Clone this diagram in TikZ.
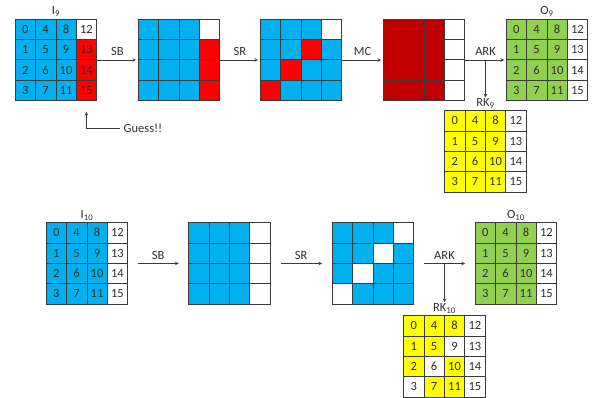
\documentclass[tikz,border=0pt]{standalone}
\usepackage{fontspec}
\setmainfont{Carlito}
\usetikzlibrary{positioning}

\definecolor{bl}{HTML}{00B0F0}
\definecolor{rd}{HTML}{FF0000}
\definecolor{dr}{HTML}{C00000}
\definecolor{gn}{HTML}{92D050}
\definecolor{ye}{HTML}{FFFF00}
\definecolor{wh}{HTML}{FFFFFF}
\definecolor{edge}{HTML}{3A3A3A}
\definecolor{numtxt}{HTML}{2E2E2E}

\tikzset{
  gridbox/.style={minimum size=81.6pt, inner sep=0pt},
  cell/.style={draw=edge, line width=0.6pt, minimum size=20.4pt, inner sep=0pt,
    text=numtxt, font=\fontsize{12.5}{14}\selectfont},
  lab/.style={inner sep=1pt, text=numtxt, font=\fontsize{12.5}{14}\selectfont},
  conn/.style={->, draw=edge, line width=0.6pt}
}

% #1 name, #2 centre, #3 sixteen fills (column by column), #4 cell text
\newcommand{\stategrid}[4]{%
  \node[gridbox] (#1) at (#2) {};
  \foreach \c [count=\n from 0] in {#3} {
    \pgfmathtruncatemacro{\col}{int(\n/4)}
    \pgfmathtruncatemacro{\row}{mod(\n,4)}
    \node[cell, fill=\c] (#1-\n) at ([shift={(\col*20.4+10.2,\row*20.4+10.2)}]#1.north west) {#4};
  }
}

\begin{document}
\begin{tikzpicture}[x=1pt, y=-1pt, >=stealth]
  \useasboundingbox (0,0) rectangle (594,398);

  % round 9
  \stategrid{i9}{56,60}{bl,bl,bl,bl, bl,bl,bl,bl, bl,bl,bl,bl, wh,rd,rd,rd}{\n}
  \stategrid{sb9}{179,60}{bl,bl,bl,bl, bl,bl,bl,bl, bl,bl,bl,bl, wh,rd,rd,rd}{}
  \stategrid{sr9}{301,60}{bl,bl,bl,rd, bl,bl,rd,bl, bl,rd,bl,bl, wh,bl,bl,bl}{}
  \stategrid{mc9}{424,60}{dr,dr,dr,dr, dr,dr,dr,dr, dr,dr,dr,dr, wh,wh,wh,wh}{}
  \stategrid{o9}{547,60}{gn,gn,gn,gn, gn,gn,gn,gn, gn,gn,gn,gn, wh,wh,wh,wh}{\n}
  \stategrid{rk9}{485.5,151.5}{ye,ye,ye,ye, ye,ye,ye,ye, ye,ye,ye,ye, wh,wh,wh,wh}{\n}

  \node[lab, above=1pt of i9] (i9lab) {I\textsubscript{9}};
  \node[lab, above=1pt of o9] (o9lab) {O\textsubscript{9}};
  \node[lab, above=1pt of rk9] (rk9lab) {RK\textsubscript{9}};

  \draw[conn, shorten >=2pt] (i9) -- node[lab, above=3pt] {SB} (sb9);
  \draw[conn, shorten >=2pt] (sb9) -- node[lab, above=3pt] {SR} (sr9);
  \draw[conn, shorten >=2pt] (sr9) -- node[lab, above=3pt] {MC} (mc9);
  \draw[conn, shorten >=2pt] (mc9) -- coordinate[midway] (k9) node[lab, midway, above=3pt] {ARK} (o9);
  \draw[conn] (k9) -- (rk9lab);

  \node[lab, inner sep=4pt] (guess) at (143,128) {Guess!!};
  \draw[conn, shorten >=11pt] (guess.west) -| (i9-15.south);

  % round 10
  \stategrid{i10}{87,263.5}{bl,bl,bl,bl, bl,bl,bl,bl, bl,bl,bl,bl, wh,wh,wh,wh}{\n}
  \stategrid{sb10}{229.5,263.5}{bl,bl,bl,bl, bl,bl,bl,bl, bl,bl,bl,bl, wh,wh,wh,wh}{}
  \stategrid{sr10}{373,263.5}{bl,bl,bl,wh, bl,bl,wh,bl, bl,wh,bl,bl, wh,bl,bl,bl}{}
  \stategrid{o10}{516,263.5}{gn,gn,gn,gn, gn,gn,gn,gn, gn,gn,gn,gn, wh,wh,wh,wh}{\n}
  \stategrid{rk10}{444.5,356.5}{ye,ye,ye,wh, ye,ye,wh,ye, ye,wh,ye,ye, wh,wh,wh,wh}{\n}

  \node[lab, above=1pt of i10] (i10lab) {I\textsubscript{10}};
  \node[lab, above=1pt of o10] (o10lab) {O\textsubscript{10}};
  \node[lab, above=1pt of rk10] (rk10lab) {RK\textsubscript{10}};

  \draw[conn, shorten <=10pt, shorten >=10pt] (i10) -- node[lab, above=3pt] {SB} (sb10);
  \draw[conn, shorten <=10pt, shorten >=10pt] (sb10) -- node[lab, above=3pt] {SR} (sr10);
  \draw[conn, shorten <=10pt, shorten >=10pt] (sr10) -- coordinate[midway] (k10) node[lab, midway, above=3pt] {ARK} (o10);
  \draw[conn] (k10) -- (rk10lab);
\end{tikzpicture}
\end{document}
